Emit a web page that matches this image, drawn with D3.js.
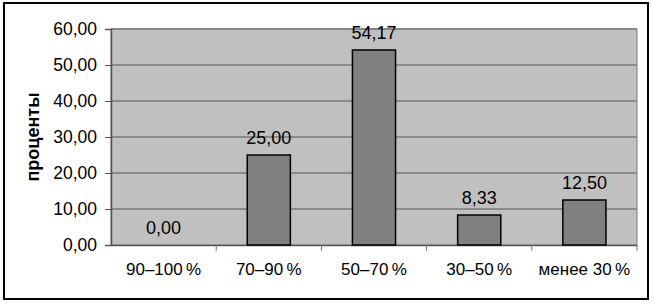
<!DOCTYPE html>
<html>
<head>
<meta charset="utf-8">
<script src="https://cdn.jsdelivr.net/npm/d3@7"></script>
<style>
  body { margin: 0; background: #fff; }
  svg text { font-family: "Liberation Sans", Arial, sans-serif; fill: #000; }
</style>
</head>
<body>
<div id="chart"></div>
<script>
// data
const categories = ["90–100\u2009%", "70–90\u2009%", "50–70\u2009%", "30–50\u2009%", "менее 30\u2009%"];
const values = [0, 25, 54.17, 8.33, 12.5];
const yTicks = [0, 10, 20, 30, 40, 50, 60];
const yTitle = "проценты";

const width = 654, height = 305;
const plot = { left: 111, right: 637, top: 29, bottom: 245 };

const svg = d3.select("#chart").append("svg")
    .attr("width", width)
    .attr("height", height);

// outer frame
svg.append("rect")
    .attr("x", 4).attr("y", 3)
    .attr("width", 644).attr("height", 296)
    .attr("fill", "#fff")
    .attr("stroke", "#000")
    .attr("stroke-width", 2);

const xScale = d3.scaleBand()
    .domain(categories)
    .range([plot.left, plot.right]);

const yScale = d3.scaleLinear()
    .domain([0, 60])
    .range([plot.bottom, plot.top]);

const fmt = v => d3.format(".2f")(v).replace(".", ",");

// plot background
svg.append("rect")
    .attr("x", plot.left).attr("y", plot.top)
    .attr("width", plot.right - plot.left)
    .attr("height", plot.bottom - plot.top)
    .attr("fill", "#c0c0c0")
    .attr("stroke", "#808080")
    .attr("stroke-width", 1);

// gridlines
svg.append("g")
    .selectAll("line")
    .data(yTicks.filter(d => d > 0))
    .join("line")
    .attr("x1", plot.left).attr("x2", plot.right)
    .attr("y1", d => yScale(d)).attr("y2", d => yScale(d))
    .attr("stroke", "#7a7a7a")
    .attr("stroke-width", 1.3);

// y axis
const yAxis = d3.axisLeft(yScale)
    .tickValues(yTicks)
    .tickSize(6)
    .tickPadding(8)
    .tickFormat(fmt);
const gy = svg.append("g")
    .attr("transform", `translate(${plot.left},0)`)
    .call(yAxis);
gy.select(".domain").attr("stroke", "#555").attr("stroke-width", 1.5);
gy.selectAll(".tick line").attr("stroke", "#555");
gy.selectAll(".tick text")
    .attr("font-size", 17.5)
    .attr("font-family", "Liberation Sans, Arial, sans-serif")
    .attr("fill", "#000");

// x axis, ticks between categories
const xAxis = d3.axisBottom(xScale).tickSize(0).tickPadding(18);
const gx = svg.append("g")
    .attr("transform", `translate(0,${plot.bottom})`)
    .call(xAxis);
gx.select(".domain").attr("stroke", "#555").attr("stroke-width", 1.5);
gx.selectAll(".tick text")
    .attr("font-size", 17)
    .attr("font-family", "Liberation Sans, Arial, sans-serif")
    .attr("fill", "#000");
svg.append("g")
    .selectAll("line")
    .data(categories.slice(1).concat(["end"]))
    .join("line")
    .attr("x1", d => d === "end" ? plot.right : xScale(d))
    .attr("x2", d => d === "end" ? plot.right : xScale(d))
    .attr("y1", plot.bottom).attr("y2", plot.bottom + 6)
    .attr("stroke", "#777");

// bars
const barW = xScale.bandwidth() * 0.41;
svg.append("g")
    .selectAll("rect")
    .data(values)
    .join("rect")
    .attr("x", (d, i) => xScale(categories[i]) + xScale.bandwidth() / 2 - barW / 2)
    .attr("y", d => yScale(d))
    .attr("width", barW)
    .attr("height", d => yScale(0) - yScale(d))
    .attr("fill", d => d > 0 ? "#808080" : "none")
    .attr("stroke", d => d > 0 ? "#000" : "none")
    .attr("stroke-width", 1.5);

// value labels
svg.append("g")
    .selectAll("text")
    .data(values)
    .join("text")
    .attr("x", (d, i) => xScale(categories[i]) + xScale.bandwidth() / 2)
    .attr("y", d => yScale(d) - 11)
    .attr("text-anchor", "middle")
    .attr("font-size", 18)
    .text(d => fmt(d));

// y title
svg.append("text")
    .attr("transform", `translate(39,${(plot.top + plot.bottom) / 2}) rotate(-90)`)
    .attr("text-anchor", "middle")
    .attr("font-size", 18)
    .attr("font-weight", "bold")
    .text(yTitle);
</script>
</body>
</html>
